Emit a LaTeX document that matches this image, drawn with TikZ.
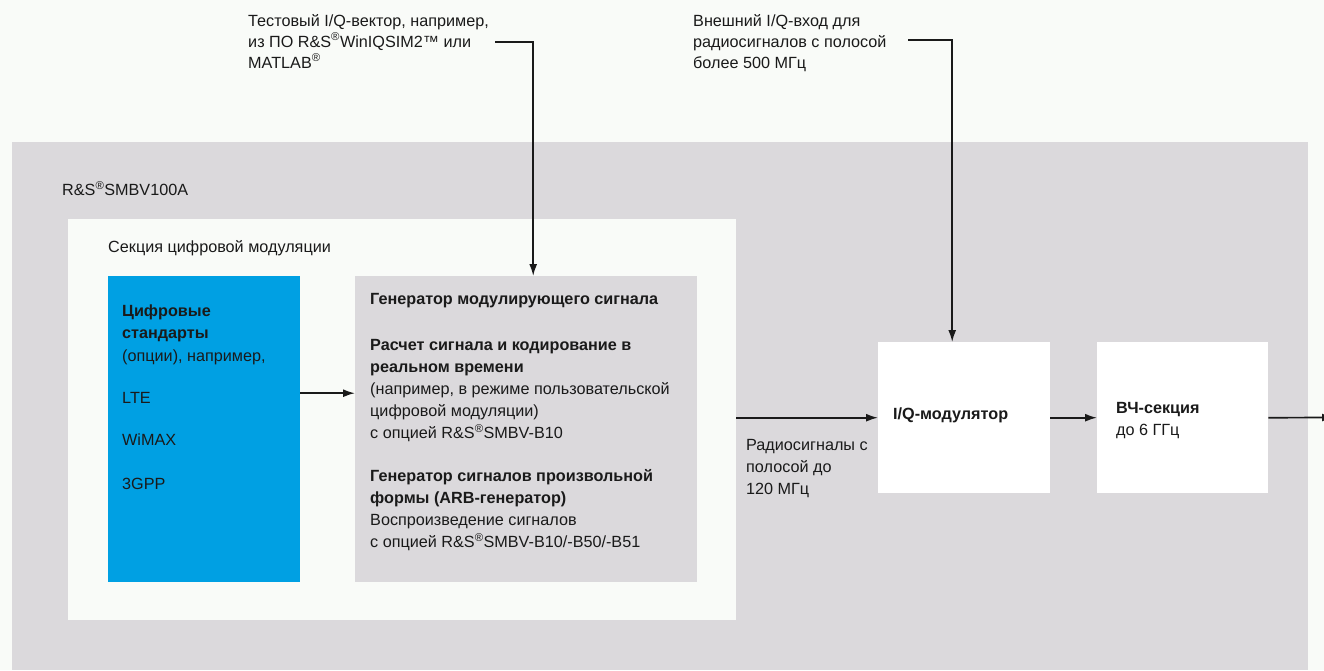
\documentclass[tikz,border=0pt]{standalone}
\usepackage{fontspec}
\setmainfont{Liberation Sans}
\usetikzlibrary{arrows.meta}
\definecolor{bgc}{HTML}{F9FBF8}
\definecolor{grayc}{HTML}{DBD9DC}
\definecolor{bluec}{HTML}{00A0E3}
\definecolor{txt}{HTML}{1A1A1A}
\newcommand{\rsreg}{R\&S\textsuperscript{®}}
\begin{document}
\begin{tikzpicture}[x=1pt,y=-1pt,
  region/.style={draw=none, inner sep=0pt, anchor=north west},
  lbl/.style={inner sep=0pt, anchor=north west, align=left, text=txt, font=\fontsize{16.2}{22}\selectfont},
  arr/.style={line width=1.7pt, draw=txt, -{Latex[length=12pt,width=8pt]}}]

\useasboundingbox[fill=bgc] (0,0) rectangle (1324,670);

\node[region, fill=grayc, minimum width=1296pt, minimum height=528pt] (dev) at (12,142) {};
\node[region, fill=bgc, minimum width=668pt, minimum height=401pt] (sec) at (68,219) {};
\node[region, fill=bluec, minimum width=192pt, minimum height=306pt] (std) at (108,276) {};
\node[region, fill=grayc, minimum width=342pt, minimum height=306pt] (gen) at (355,276) {};
\node[region, fill=white, minimum width=172pt, minimum height=151pt] (iq) at (878,342) {};
\node[region, fill=white, minimum width=171pt, minimum height=151pt] (rf) at (1097,342) {};

\node[lbl] (devlbl) at (62,181.5) {\rsreg SMBV100A};
\node[lbl] (seclbl) at (108,240) {Секция цифровой модуляции};

\node[lbl] (stdtxt) at (122,305) {\textbf{Цифровые}\\\textbf{стандарты}\\[1pt](опции), например,\\[20pt]LTE\\[20pt]WiMAX\\[22pt]3GPP};

\node[lbl] (gentxt) at (370,293.5) {\textbf{Генератор модулирующего сигнала}\\[24pt]\textbf{Расчет сигнала и кодирование в}\\\textbf{реальном времени}\\(например, в режиме пользовательской\\цифровой модуляции)\\с опцией \rsreg SMBV-B10\\[21pt]\textbf{Генератор сигналов произвольной}\\\textbf{формы (ARB-генератор)}\\Воспроизведение сигналов\\с опцией \rsreg SMBV-B10/-B50/-B51};

\node[lbl, font=\fontsize{16.2}{21}\selectfont] (note1) at (248,14) {Тестовый I/Q-вектор, например,\\из ПО \rsreg WinIQSIM2™ или\\MATLAB\textsuperscript{®}};
\node[lbl, font=\fontsize{16.2}{21}\selectfont] (note2) at (693,14) {Внешний I/Q-вход для\\радиосигналов с полосой\\более 500 МГц};

\node[lbl] (radio) at (746,439.5) {Радиосигналы с\\полосой до\\120 МГц};
\node[lbl] (iqtxt) at (893,407.5) {\textbf{I/Q-модулятор}};
\node[lbl] (rftxt) at (1116,402.5) {\textbf{ВЧ-секция}\\до 6 ГГц};

\coordinate (n1) at (495,42);
\coordinate (n2) at (908,40);
\coordinate (out) at (1334,417.5);

\draw[arr] (n1) -| ([xshift=7pt]gen.north);
\draw[arr] (n2) -| ([xshift=-12pt]iq.north);
\draw[arr] ([yshift=36pt]std.east) -- ([yshift=36pt]std.east -| gen.west);
\draw[arr] (sec.east |- iq.west) -- (iq.west);
\draw[arr] (iq.east) -- (rf.west);
\draw[arr] (rf.east) -- (out);
\end{tikzpicture}
\end{document}
